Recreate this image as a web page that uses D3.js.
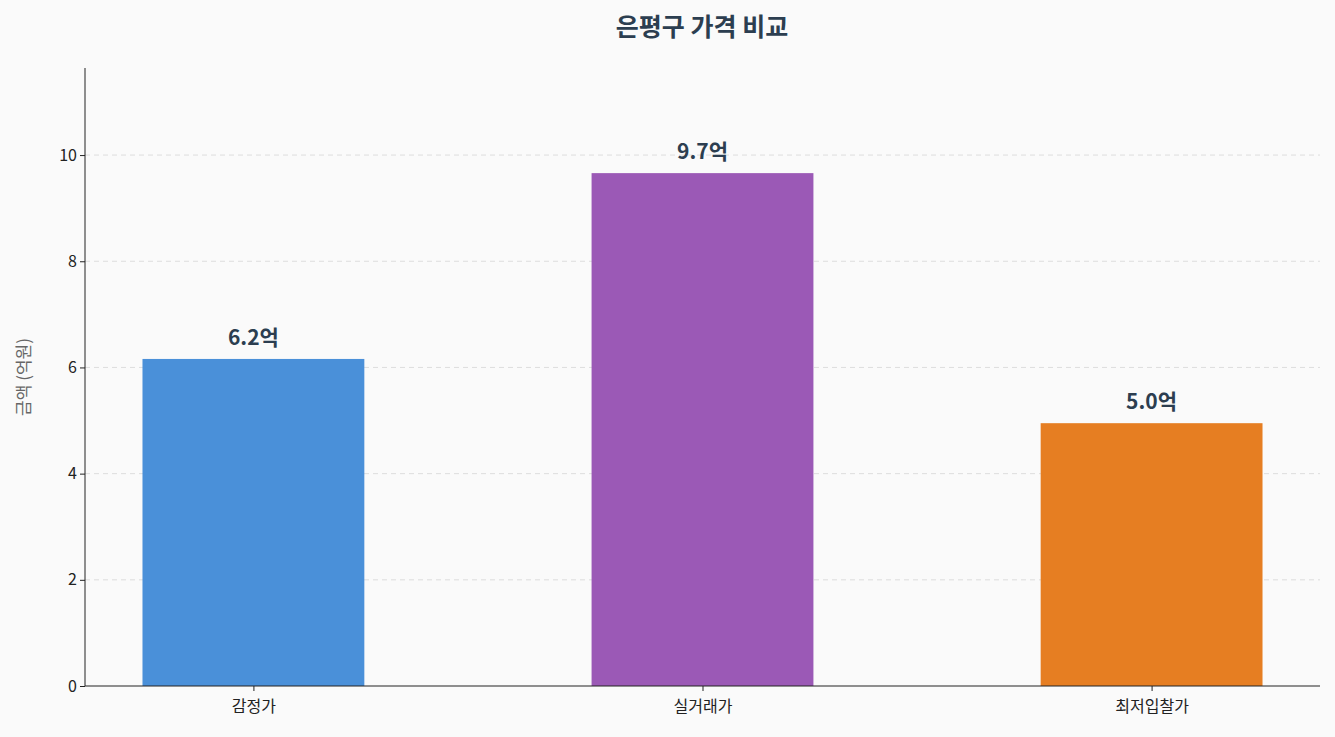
<!DOCTYPE html>
<html><head><meta charset="utf-8">
<script src="https://cdn.jsdelivr.net/npm/d3@7"></script>
<style>body{margin:0;background:#fafafa;font-family:"Noto Sans CJK KR","Noto Sans",sans-serif;}</style>
</head><body><svg id="c" width="1335" height="737"></svg>
<script>
const categories = ["감정가","실거래가","최저입찰가"];
const values = [6.16, 9.66, 4.95];
const labels = ["6.2억","9.7억","5.0억"];
const colors = ["#4A90D9","#9B59B6","#E67E22"];
const yTicks = [0,2,4,6,8,10];

const svg = d3.select("#c");
svg.append("rect").attr("width",1335).attr("height",737).attr("fill","#fafafa");
const L=85,R=1320,T=68,B=686;
const x = d3.scaleLinear().domain([-0.375,2.375]).range([L,R]);
const y = d3.scaleLinear().domain([0,11.64]).range([B,T]);
const font = '"Noto Sans CJK KR","Noto Sans",sans-serif';

svg.append("g").selectAll("line").data(yTicks.slice(1)).join("line")
 .attr("x1",L).attr("x2",R).attr("y1",d=>y(d)).attr("y2",d=>y(d))
 .attr("stroke","#ddd").attr("stroke-dasharray","5,4").attr("stroke-width",1);

svg.append("g").selectAll("rect").data(values).join("rect")
 .attr("x",(d,i)=>x(i-0.247)).attr("width",x(0.494)-x(0))
 .attr("y",d=>y(d)).attr("height",d=>B-y(d)).attr("fill",(d,i)=>colors[i]);

svg.append("g").selectAll("text").data(values).join("text")
 .attr("x",(d,i)=>x(i)).attr("y",d=>y(d)-14).attr("text-anchor","middle")
 .attr("font-family",font).attr("font-size",21).attr("font-weight","bold").attr("fill","#2C3E50")
 .text((d,i)=>labels[i]);

const ya = svg.append("g").attr("transform",`translate(${L},0)`)
 .call(d3.axisLeft(y).tickValues(yTicks).tickSize(5).tickSizeOuter(0));
ya.select(".domain").attr("d",`M0,${T}V${B}`);
const xa = svg.append("g").attr("transform",`translate(0,${B})`)
 .call(d3.axisBottom(x).tickValues([0,1,2]).tickFormat(i=>categories[i]).tickSize(5).tickSizeOuter(0));
xa.select(".domain").attr("d",`M${L},0H${R}`);
svg.selectAll(".tick text").attr("font-family",font).attr("font-size",16).attr("fill","#222");
xa.selectAll(".tick text").attr("dy","1.1em");
svg.selectAll(".domain,.tick line").attr("stroke","#222");

svg.append("text").attr("transform",`translate(30,${(T+B)/2+0}) rotate(-90)`)
 .attr("text-anchor","middle").attr("font-family",font).attr("font-size",17).attr("fill","#666")
 .text("금액 (억원)");
svg.append("text").attr("x",702).attr("y",36).attr("text-anchor","middle")
 .attr("font-family",font).attr("font-size",25).attr("font-weight","bold").attr("fill","#2C3E50")
 .text("은평구 가격 비교");
</script></body></html>
